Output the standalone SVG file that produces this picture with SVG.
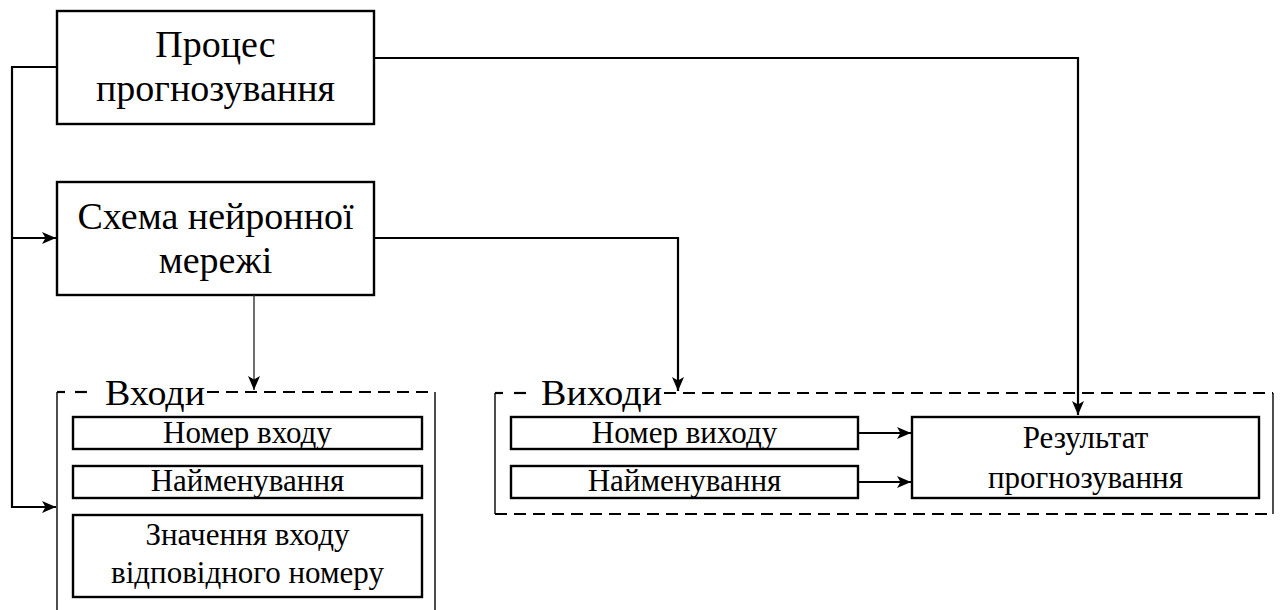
<svg xmlns="http://www.w3.org/2000/svg" width="1282" height="610" viewBox="0 0 1282 610">
  <style>
    .box { fill: #ffffff; stroke: #000000; stroke-width: 2.4; }
    .lbl { font-family: 'Liberation Serif', 'DejaVu Serif', serif; fill: #000000; text-anchor: middle; }
    .big { font-size: 38px; }
    .mid { font-size: 31px; }
    .hdr { font-size: 36px; text-anchor: start; }
    .wire { fill: none; stroke: #000000; stroke-width: 2.2; }
    .thin { fill: none; stroke: #333333; stroke-width: 1.4; }
    .dash { fill: none; stroke: #000000; stroke-width: 2.2; stroke-dasharray: 12 7; }
    .side { fill: none; stroke: #000000; stroke-width: 1.4; }
  </style>
  <defs>
    <marker id="arrow" viewBox="0 0 14 12" refX="14" refY="6" markerWidth="14" markerHeight="12" markerUnits="userSpaceOnUse" orient="auto">
      <path d="M0,0 L14,6 L0,12 L3.5,6 Z" fill="#000000"/>
    </marker>
  </defs>

  <rect width="1282" height="610" fill="#ffffff"/>

  <!-- group frames: dashed top and bottom, solid sides -->
  <g id="inputs-frame">
    <line class="side" x1="57" y1="392" x2="57" y2="610"/>
    <line class="side" x1="435" y1="392" x2="435" y2="610"/>
    <line class="wire" x1="57" y1="392" x2="65" y2="392"/>
    <line class="wire" x1="75" y1="392" x2="87" y2="392"/>
    <line class="dash" x1="207" y1="392" x2="435" y2="392"/>
    <text class="lbl hdr" x="105" y="405" textLength="100" lengthAdjust="spacingAndGlyphs">Входи</text>
  </g>
  <g id="outputs-frame">
    <line class="side" x1="495" y1="393" x2="495" y2="514"/>
    <line class="side" x1="1273" y1="393" x2="1273" y2="514"/>
    <line class="wire" x1="495" y1="393" x2="503" y2="393"/>
    <line class="wire" x1="514" y1="393" x2="526" y2="393"/>
    <line class="dash" x1="664" y1="393" x2="1273" y2="393"/>
    <line class="dash" x1="495" y1="514" x2="1273" y2="514"/>
    <text class="lbl hdr" x="541" y="405" textLength="121" lengthAdjust="spacingAndGlyphs">Виходи</text>
  </g>

  <!-- nodes -->
  <g id="forecast-process">
    <rect class="box" x="57" y="11" width="317" height="113"/>
    <text class="lbl big" x="215.5" y="57">Процес</text>
    <text class="lbl big" x="215.5" y="101">прогнозування</text>
  </g>
  <g id="network-scheme">
    <rect class="box" x="57" y="182" width="317" height="113"/>
    <text class="lbl big" x="215.5" y="229">Схема нейронної</text>
    <text class="lbl big" x="215.5" y="273">мережі</text>
  </g>
  <g id="input-number">
    <rect class="box" x="73" y="417" width="349" height="32"/>
    <text class="lbl mid" x="247.5" y="443">Номер входу</text>
  </g>
  <g id="input-name">
    <rect class="box" x="73" y="466" width="349" height="32"/>
    <text class="lbl mid" x="247.5" y="491">Найменування</text>
  </g>
  <g id="input-value">
    <rect class="box" x="73" y="515" width="349" height="82"/>
    <text class="lbl mid" x="247.5" y="545">Значення входу</text>
    <text class="lbl mid" x="247.5" y="583">відповідного номеру</text>
  </g>
  <g id="output-number">
    <rect class="box" x="511" y="417" width="347" height="32"/>
    <text class="lbl mid" x="684.5" y="443">Номер виходу</text>
  </g>
  <g id="output-name">
    <rect class="box" x="511" y="466" width="347" height="32"/>
    <text class="lbl mid" x="684.5" y="491">Найменування</text>
  </g>
  <g id="forecast-result">
    <rect class="box" x="912" y="417" width="347" height="81"/>
    <text class="lbl mid" x="1085.5" y="448">Результат</text>
    <text class="lbl mid" x="1085.5" y="488">прогнозування</text>
  </g>

  <!-- connectors -->
  <g id="connectors">
    <polyline class="wire" points="57,67 12,67 12,507 56,507" marker-end="url(#arrow)"/>
    <line class="wire" x1="12" y1="238" x2="56" y2="238" marker-end="url(#arrow)"/>
    <polyline class="wire" points="374,58 1078,58 1078,415" marker-end="url(#arrow)"/>
    <polyline class="wire" points="374,238 678,238 678,391" marker-end="url(#arrow)"/>
    <line class="thin" x1="254" y1="295" x2="254" y2="390" marker-end="url(#arrow)"/>
    <line class="wire" x1="858" y1="433" x2="911" y2="433" marker-end="url(#arrow)"/>
    <line class="wire" x1="858" y1="482" x2="911" y2="482" marker-end="url(#arrow)"/>
  </g>
</svg>
